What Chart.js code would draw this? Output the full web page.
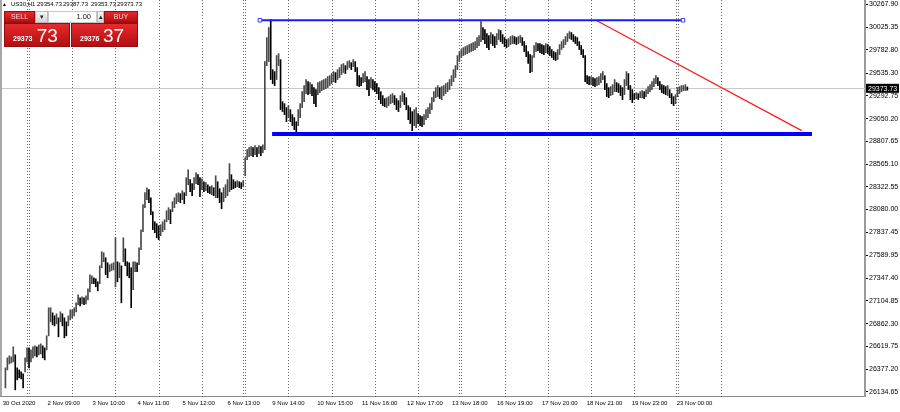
<!DOCTYPE html>
<html>
<head>
<meta charset="utf-8">
<title>US30,H1</title>
<script src="https://cdn.jsdelivr.net/npm/chart.js@4.4.1/dist/chart.umd.min.js"></script>
<style>
  html, body { margin: 0; padding: 0; background: #fff; }
  #wrap { position: relative; width: 900px; height: 412px; font-family: "Liberation Sans", Arial, sans-serif; }
  #chart { position: absolute; left: 0; top: 0; }
  .hd { position: absolute; top: 1px; font-size: 6px; line-height: 7px; color: #000; white-space: nowrap; }
  .box { position: absolute; box-sizing: border-box; }
  .red { background: linear-gradient(#e62a2d, #b10f12); border: 1px solid #9a0b0d; color: #fff; }
  .btn { font-size: 7px; line-height: 10px; text-align: center; color: #ffd0d0; }
  .grey { background: linear-gradient(#f6f6f6, #d6d6d6); border: 1px solid #b8b8b8; font-size: 7px; line-height: 10px; text-align: center; color: #222; }
  .lot { background: #fff; border: 1px solid #c8c8c8; font-size: 7.5px; line-height: 10px; text-align: right; padding-right: 5px; color: #111; }
  .sm { position: absolute; font-size: 7px; line-height: 1; font-weight: bold; }
  .bg { position: absolute; font-size: 19px; line-height: 1; }
</style>
</head>
<body>
<div id="wrap">
  <canvas id="chart" width="900" height="412"></canvas>

  <div class="hd" style="left:2px;font-size:5px;">▲</div>
  <div class="hd" style="left:11px;">US30,H1</div>
  <div class="hd" style="left:37px;">29354.73</div>
  <div class="hd" style="left:63px;">29387.73</div>
  <div class="hd" style="left:91px;">29353.73</div>
  <div class="hd" style="left:117px;">29373.73</div>

  <div class="box red btn" style="left:4px;top:11px;width:31px;height:12px;">SELL</div>
  <div class="box grey" style="left:35px;top:11px;width:13px;height:12px;">▾</div>
  <div class="box lot" style="left:48px;top:11px;width:49px;height:12px;">1.00</div>
  <div class="box grey" style="left:97px;top:11px;width:7px;height:12px;">▴</div>
  <div class="box red btn" style="left:104px;top:11px;width:34px;height:12px;">BUY</div>
  <div class="box red" style="left:4px;top:23px;width:66px;height:24px;">
    <span class="sm" style="left:8px;top:10.8px;">29373</span><span class="bg" style="left:31.7px;top:1.6px;">73</span>
  </div>
  <div class="box red" style="left:71px;top:23px;width:67px;height:24px;">
    <span class="sm" style="left:8px;top:10.8px;">29376</span><span class="bg" style="left:31px;top:1.6px;">37</span>
  </div>
</div>

<script>
// tick labels of the time axis and the bar index where each one starts
const xLabels = ['30 Oct 2020', '2 Nov 09:00', '3 Nov 10:00', '4 Nov 11:00', '5 Nov 12:00', '6 Nov 13:00',
  '9 Nov 14:00', '10 Nov 15:00', '11 Nov 16:00', '12 Nov 17:00', '13 Nov 18:00', '16 Nov 19:00',
  '17 Nov 20:00', '18 Nov 21:00', '19 Nov 23:00', '23 Nov 00:00'];
const labelBars = [-1.38, 21.46, 44.36, 67.2, 90.1, 112.96, 135.8, 158.65, 181.5, 204.4, 227.2, 250.1,
  273.0, 295.8, 318.7, 341.6];

// price axis labels
const yTicks = [30267.90, 30025.35, 29782.80, 29535.30, 29292.75, 29050.20, 28807.65, 28565.10, 28322.55,
  28080.00, 27837.45, 27589.95, 27347.40, 27104.85, 26862.30, 26619.75, 26377.20, 26134.65];

// H1 candles, high and low
const highs = [
  // 30 Oct
  26391, 26498, 26519, 26508, 26615, 26530, 26391, 26369, 26348, 26327, 26498, 26604,
  // 2 Nov
  26604, 26583, 26615, 26626, 26615, 26636, 26647, 26626, 26604, 26733, 27032, 27032, 26978, 26946, 26968, 26925, 26989, 26968, 26925, 26882, 26946, 27010,
  // 3 Nov
  27010, 27032, 27085, 27170, 27138, 27149, 27138, 27160, 27235, 27384, 27373, 27352, 27341, 27309, 27480, 27630, 27619, 27566, 27512, 27491, 27502, 27512,
  // 4 Nov
  27779, 27523, 27512, 27480, 27779, 27662, 27523, 27512, 27459, 27523, 27523, 27512, 27672, 27865, 28132, 28260, 28313, 28292, 28206, 28057, 27950, 27929,
  // 5 Nov
  27907, 27918, 27950, 27971, 28068, 28100, 28078, 28164, 28206, 28249, 28260, 28249, 28281, 28260, 28420, 28505, 28399, 28356, 28420, 28473, 28452, 28420,
  // 6 Nov
  28409, 28377, 28367, 28345, 28324, 28335, 28313, 28441, 28377, 28303, 28260, 28313, 28345, 28399, 28570, 28452, 28399, 28377, 28388, 28377, 28367, 28388,
  // 9 Nov
  28634, 28719, 28740, 28751, 28740, 28762, 28740, 28762, 28751, 28772, 29659, 29915, 30022, 30107, 29573, 29552, 29723, 29744, 29680, 29232, 29210, 29168,
  // 10 Nov
  29189, 29146, 29093, 29061, 29018, 29146, 29210, 29338, 29403, 29467, 29445, 29435, 29413, 29381, 29360, 29435, 29445, 29456, 29467, 29477, 29499, 29509,
  // 11 Nov
  29531, 29552, 29541, 29573, 29595, 29627, 29638, 29616, 29659, 29670, 29648, 29680, 29659, 29595, 29509, 29488, 29531, 29552, 29499, 29467, 29488, 29467,
  // 12 Nov
  29445, 29424, 29381, 29338, 29296, 29264, 29274, 29285, 29306, 29317, 29296, 29264, 29242, 29296, 29338, 29317, 29274, 29189, 29168, 29125, 29146, 29168,
  // 13 Nov
  29104, 29082, 29071, 29093, 29146, 29168, 29210, 29274, 29338, 29381, 29403, 29381, 29392, 29403, 29424, 29435, 29467, 29509, 29573, 29616, 29723, 29766,
  // 16 Nov
  29787, 29808, 29819, 29830, 29840, 29851, 29862, 29872, 29915, 29937, 30086, 30022, 30001, 29958, 29937, 29969, 29947, 29926, 29958, 30001, 29990, 29947,
  // 17 Nov
  29915, 29894, 29905, 29926, 29937, 29926, 29915, 29926, 29937, 29915, 29872, 29830, 29766, 29734, 29723, 29830, 29862, 29851, 29851, 29840, 29830, 29851,
  // 18 Nov
  29840, 29819, 29787, 29766, 29755, 29787, 29840, 29872, 29894, 29926, 29958, 29979, 29969, 29947, 29926, 29915, 29872, 29830, 29787, 29723, 29509, 29499,
  // 19 Nov
  29499, 29488, 29477, 29488, 29499, 29531, 29552, 29509, 29424, 29381, 29392, 29413, 29467, 29435, 29424, 29403, 29381, 29467, 29552, 29531, 29403, 29360,
  // 20 Nov
  29317, 29328, 29317, 29338, 29349, 29338, 29360, 29392, 29413, 29445, 29477, 29509, 29488, 29445, 29413, 29403, 29392, 29403, 29360, 29317, 29285, 29306,
  // 23 Nov
  29381, 29392, 29403, 29403, 29413, 29387.73
];
const lows = [
  // 30 Oct
  26177, 26369, 26433, 26444, 26455, 26156, 26263, 26284, 26273, 26177, 26348, 26455,
  // 2 Nov
  26391, 26455, 26498, 26519, 26508, 26530, 26540, 26498, 26476, 26583, 26733, 26882, 26850, 26839, 26861, 26722, 26882, 26839, 26711, 26733, 26839, 26903,
  // 3 Nov
  26925, 26946, 26989, 27064, 27053, 27074, 27064, 27074, 27117, 27202, 27288, 27288, 27256, 27213, 27288, 27459, 27523, 27384, 27352, 27416, 27427, 27437,
  // 4 Nov
  27256, 27309, 27352, 27085, 27523, 27480, 27373, 27352, 27032, 27224, 27416, 27416, 27491, 27651, 27843, 28100, 28185, 28153, 28025, 27865, 27833, 27779,
  // 5 Nov
  27758, 27801, 27843, 27865, 27950, 27971, 27929, 28057, 28100, 28142, 28164, 28153, 28185, 28142, 28228, 28345, 28271, 28228, 28292, 28356, 28345, 28217,
  // 6 Nov
  28292, 28271, 28281, 28260, 28249, 28238, 28228, 28206, 28206, 28153, 28089, 28164, 28206, 28228, 28271, 28292, 28303, 28313, 28324, 28313, 28303, 28324,
  // 9 Nov
  28441, 28612, 28644, 28655, 28644, 28666, 28644, 28676, 28655, 28687, 28719, 29616, 29659, 29467, 29424, 29403, 29467, 29616, 29146, 29125, 29093, 29018,
  // 10 Nov
  29061, 29018, 28975, 28933, 28911, 28975, 29061, 29168, 29232, 29317, 29306, 29317, 29296, 29210, 29178, 29306, 29328, 29349, 29360, 29370, 29381, 29403,
  // 11 Nov
  29424, 29445, 29435, 29467, 29488, 29520, 29541, 29531, 29573, 29595, 29573, 29605, 29552, 29403, 29392, 29403, 29435, 29445, 29360, 29296, 29381, 29360,
  // 12 Nov
  29338, 29317, 29253, 29210, 29189, 29178, 29168, 29189, 29210, 29221, 29200, 29146, 29125, 29168, 29232, 29200, 29146, 29039, 28997, 28922, 28975, 28954,
  // 13 Nov
  28997, 28975, 28965, 28986, 29039, 29061, 29104, 29146, 29232, 29274, 29285, 29264, 29253, 29296, 29317, 29338, 29360, 29403, 29445, 29488, 29573, 29659,
  // 16 Nov
  29702, 29723, 29734, 29744, 29755, 29766, 29776, 29787, 29808, 29830, 29872, 29894, 29851, 29808, 29787, 29851, 29830, 29808, 29840, 29894, 29872, 29851,
  // 17 Nov
  29819, 29808, 29819, 29840, 29851, 29851, 29840, 29851, 29862, 29830, 29766, 29712, 29638, 29541, 29552, 29702, 29766, 29776, 29755, 29744, 29734, 29755,
  // 18 Nov
  29744, 29723, 29702, 29680, 29670, 29680, 29734, 29787, 29808, 29840, 29872, 29905, 29894, 29872, 29851, 29830, 29787, 29734, 29702, 29445, 29424, 29413,
  // 19 Nov
  29413, 29403, 29392, 29403, 29413, 29435, 29467, 29360, 29285, 29274, 29296, 29306, 29338, 29338, 29328, 29296, 29253, 29306, 29403, 29360, 29253, 29221,
  // 20 Nov
  29253, 29264, 29253, 29274, 29274, 29264, 29285, 29317, 29338, 29360, 29392, 29424, 29403, 29360, 29328, 29317, 29306, 29296, 29274, 29210, 29189, 29210,
  // 23 Nov
  29285, 29317, 29338, 29349, 29349, 29353.73
];
const lastClose = 29373.73;

// first bar of each day (period separators), weeks get a double line
const dayStarts = [12, 34, 56, 78, 100, 122, 144, 166, 188, 210, 232, 254, 276, 298, 320, 342, 364];
const weekStarts = [12, 122, 232, 342];

// drawn objects: resistance, support, falling trend line
const resistance = [{ x: 129.5, y: 30100 }, { x: 344.8, y: 30100 }];
const support = [{ x: 135.7, y: 28887 }, { x: 410.4, y: 28887 }];
const trendLine = [{ x: 300.5, y: 30100 }, { x: 405.2, y: 28922 }];

const bars = highs.map((h, i) => ({ x: i, y: [lows[i], h] }));
const barColors = highs.map((h, i) =>
  i > 0 && h + lows[i] < highs[i - 1] + lows[i - 1] ? '#000000' : '#4a4a4a');

const mtPlugin = {
  id: 'mt4',
  beforeDatasetsDraw(chart) {
    const { ctx, chartArea: a, scales: { x, y } } = chart;
    ctx.save();
    // bid line
    const py = Math.round(y.getPixelForValue(lastClose)) + 0.5;
    ctx.strokeStyle = '#c8c8c8';
    ctx.lineWidth = 1;
    ctx.beginPath(); ctx.moveTo(a.left, py); ctx.lineTo(a.right, py); ctx.stroke();
    // period separators
    ctx.setLineDash([1, 2]);
    ctx.strokeStyle = '#6c6c6c';
    dayStarts.forEach(d => {
      const px = Math.round(x.getPixelForValue(d)) + 0.5;
      const xs = weekStarts.includes(d) ? [px - 2, px] : [px];
      xs.forEach(v => {
        ctx.beginPath(); ctx.moveTo(v, a.top); ctx.lineTo(v, a.bottom + 3); ctx.stroke();
      });
    });
    ctx.restore();
  },
  afterDraw(chart) {
    const { ctx, chartArea: a, scales: { y } } = chart;
    ctx.save();
    ctx.fillStyle = '#a8a8a8';
    ctx.fillRect(0, 0, 2, a.bottom);
    // price tag on the axis
    const py = y.getPixelForValue(lastClose);
    ctx.fillStyle = '#000';
    ctx.fillRect(a.right + 1, py - 4.5, 33, 9);
    ctx.fillStyle = '#fff';
    ctx.font = '7px "Liberation Sans"';
    ctx.textBaseline = 'middle';
    ctx.fillText(lastClose.toFixed(2), a.right + 3, py + 0.5);
    ctx.restore();
  }
};

new Chart(document.getElementById('chart').getContext('2d'), {
  type: 'bar',
  data: {
    datasets: [
      { type: 'line', data: support, borderColor: '#0000ff', borderWidth: 4, pointRadius: 0, order: 1 },
      {
        type: 'line', data: resistance, borderColor: '#1a1aff', borderWidth: 2,
        pointRadius: 2.5, pointStyle: 'rect', pointBackgroundColor: '#fff',
        pointBorderColor: '#3a3aff', pointBorderWidth: 1, order: 1
      },
      { type: 'line', data: trendLine, borderColor: '#ff1a1a', borderWidth: 1.2, pointRadius: 0, order: 1 },
      { label: 'US30,H1', data: bars, backgroundColor: barColors, barThickness: 1, order: 2 }
    ]
  },
  options: {
    responsive: false,
    animation: false,
    events: [],
    layout: { padding: 0, autoPadding: false },
    plugins: { legend: { display: false }, tooltip: { enabled: false } },
    scales: {
      x: {
        type: 'linear', min: -2.757, max: 437.4, offset: false,
        grid: { display: false, drawTicks: false },
        border: { display: true, color: '#8a8a8a', width: 1 },
        afterBuildTicks: s => { s.ticks = labelBars.map(v => ({ value: v })); },
        afterFit: s => { s.height = 16; s.paddingLeft = 0; s.paddingRight = 0; },
        ticks: {
          autoSkip: false, maxRotation: 0, align: 'start', padding: 4, color: '#000',
          font: { family: 'Liberation Sans', size: 6 },
          callback: (v, i) => xLabels[i]
        }
      },
      y: {
        position: 'right', min: 26090.7, max: 30316,
        grid: { display: true, drawOnChartArea: false, drawTicks: true, tickLength: 3, tickColor: '#000' },
        border: { color: '#9a9a9a', width: 2 },
        afterBuildTicks: s => { s.ticks = yTicks.map(v => ({ value: v })); },
        afterFit: s => { s.width = 35; s.paddingTop = 0; s.paddingBottom = 0; },
        ticks: {
          padding: 1, color: '#000',
          font: { family: 'Liberation Sans', size: 7 },
          callback: v => v.toFixed(2)
        }
      }
    }
  },
  plugins: [mtPlugin]
});
</script>
</body>
</html>
